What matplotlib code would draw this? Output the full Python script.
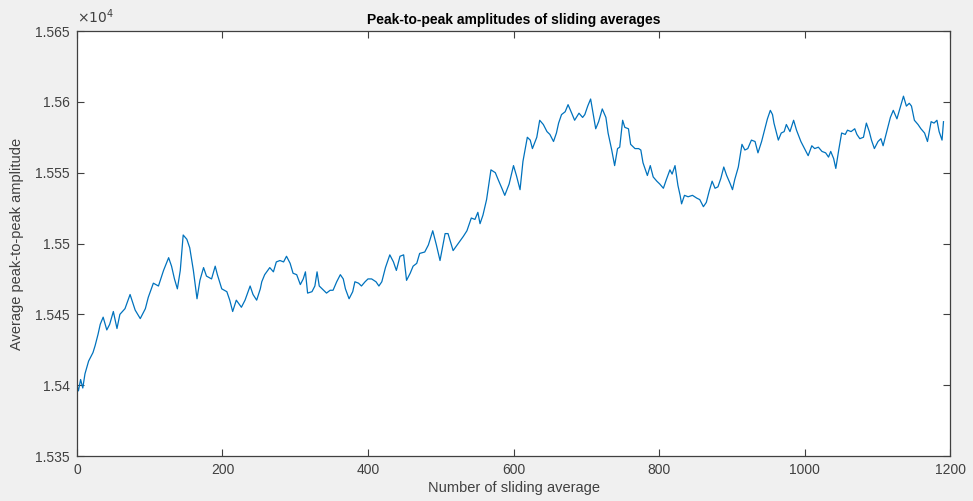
import matplotlib
matplotlib.use('Agg')
import matplotlib.pyplot as plt
from matplotlib.ticker import FuncFormatter

# values (x = index of sliding average, y = amplitude)
sliding_idx = [
    0, 2, 5, 8, 11, 16, 22, 25, 29, 32, 36, 41, 45, 50, 55, 59, 66, 73, 80, 87,
    94, 98, 105, 112, 119, 126, 130, 134, 138, 142, 146, 151, 155, 160, 165, 169,
    174, 178, 185, 190, 193, 199, 206, 210, 214, 219, 226, 231, 238, 242, 247, 252,
    254, 258, 265, 270, 274, 279, 284, 288, 293, 297, 302, 307, 311, 314, 317, 323,
    327, 330, 333, 339, 343, 348, 352, 357, 362, 366, 369, 374, 379, 382, 387, 391,
    396, 400, 405, 411, 415, 419, 424, 430, 435, 439, 444, 449, 453, 458, 462, 467,
    471, 478, 483, 489, 494, 499, 506, 510, 517, 524, 531, 536, 542, 547, 551, 554,
    558, 563, 569, 575, 579, 584, 588, 594, 600, 604, 609, 613, 619, 623, 626, 632,
    636, 641, 646, 650, 655, 659, 662, 666, 671, 675, 680, 684, 690, 695, 698, 702,
    706, 709, 713, 717, 722, 727, 730, 735, 739, 743, 746, 750, 753, 758, 761, 767,
    772, 775, 778, 782, 784, 788, 792, 797, 801, 806, 810, 815, 818, 822, 826, 829,
    831, 835, 840, 846, 852, 856, 861, 865, 869, 873, 877, 881, 885, 889, 893, 898,
    901, 904, 909, 914, 918, 922, 927, 932, 936, 941, 946, 949, 953, 956, 958, 962,
    964, 968, 972, 975, 980, 985, 989, 995, 1000, 1005, 1010, 1014, 1019, 1024, 1029,
    1033, 1036, 1040, 1043, 1047, 1051, 1056, 1059, 1064, 1069, 1072, 1076, 1081,
    1085, 1089, 1092, 1096, 1101, 1105, 1108, 1113, 1118, 1122, 1127, 1131, 1136,
    1140, 1144, 1147, 1151, 1156, 1160, 1165, 1169, 1174, 1178, 1182, 1185, 1189, 1191,
]
amplitude = [
    15400, 15396, 15404, 15398, 15408, 15417, 15423, 15428, 15436, 15443, 15448, 15439,
    15443, 15452, 15440, 15450, 15454, 15464, 15453, 15447, 15454, 15462, 15472, 15470,
    15481, 15490, 15484, 15475, 15468, 15481, 15506, 15503, 15497, 15481, 15461, 15474,
    15483, 15477, 15475, 15484, 15478, 15468, 15466, 15460, 15452, 15460, 15455, 15460,
    15470, 15464, 15460, 15468,
    15473, 15478, 15483, 15480, 15487, 15488, 15487, 15491, 15486, 15479, 15478, 15471,
    15475, 15480, 15465, 15466, 15470, 15480, 15470, 15467, 15465, 15467, 15467, 15473,
    15478, 15475, 15468, 15461, 15466, 15473, 15472, 15470, 15473, 15475, 15475, 15473,
    15470, 15473, 15483, 15492, 15487, 15481, 15491, 15492, 15474, 15479, 15484, 15486,
    15493, 15494, 15499, 15509, 15499, 15488, 15507, 15507, 15495, 15500, 15505, 15509,
    15518, 15517, 15522, 15514, 15520, 15531, 15552, 15550, 15545, 15539, 15534, 15542,
    15555, 15548, 15538, 15558, 15575, 15573, 15567, 15575, 15587, 15584, 15579, 15577,
    15572, 15578, 15585, 15591, 15593, 15598, 15592, 15587, 15592, 15589, 15591, 15597,
    15602, 15593, 15581, 15586, 15595, 15589, 15578, 15566, 15555, 15567, 15568, 15587,
    15582, 15581, 15570, 15567, 15567, 15566, 15557, 15551, 15548, 15555, 15547, 15544,
    15542, 15539, 15545, 15552, 15549, 15555, 15541, 15534, 15528, 15534, 15533, 15534,
    15532, 15531, 15526, 15529, 15537, 15544, 15539, 15540, 15546, 15554, 15548, 15542,
    15538, 15545, 15554, 15570, 15566, 15567, 15573, 15572, 15564, 15572, 15582, 15588,
    15594, 15591, 15585, 15577, 15573, 15578, 15579, 15584, 15579, 15587, 15580, 15572,
    15567, 15562, 15569, 15567, 15568, 15565, 15564, 15561, 15565, 15560, 15553, 15566,
    15578, 15577, 15580, 15579, 15581, 15577, 15574, 15575, 15585, 15579, 15573, 15567,
    15572, 15574, 15569, 15579, 15589, 15594, 15588, 15595, 15604, 15597, 15599, 15597,
    15587, 15584, 15581, 15578, 15572, 15586, 15585, 15587, 15579, 15573, 15586,
]

x_ticks = [0, 200, 400, 600, 800, 1000, 1200]
y_ticks = [15350, 15400, 15450, 15500, 15550, 15600, 15650]

plt.rcParams['font.family'] = ['Liberation Sans', 'DejaVu Sans']

fig = plt.figure(figsize=(9.73, 5.01), dpi=100, facecolor='#f0f0f0')
ax = fig.add_axes([0.0791, 0.0898, 0.8973, 0.8483])
ax.set_facecolor('white')

ax.plot(sliding_idx, amplitude, color='#0072BD', linewidth=0.9)

ax.set_xlim(0, 1200)
ax.set_ylim(15350, 15650)
ax.set_xticks(x_ticks)
ax.set_yticks(y_ticks)
ax.yaxis.set_major_formatter(FuncFormatter(lambda v, p: f'{v / 1e4:g}'))

ax.tick_params(direction='in', length=5, width=0.8, colors='#404040',
               labelsize=10, top=True, right=True, pad=5)
for s in ax.spines.values():
    s.set_color('#404040')
    s.set_linewidth(0.9)

ax.text(0.0, 1.012, r'$\times10^{4}$', transform=ax.transAxes, fontsize=10,
        color='#404040', ha='left', va='bottom')

ax.set_title('Peak-to-peak amplitudes of sliding averages', fontsize=10,
             fontweight='bold', color='black', pad=5)
ax.set_xlabel('Number of sliding average', fontsize=10.5, color='#404040', labelpad=3)
ax.set_ylabel('Average peak-to-peak amplitude', fontsize=10.5, color='#404040', labelpad=8)

fig.savefig('out.png', dpi=100, facecolor=fig.get_facecolor())
